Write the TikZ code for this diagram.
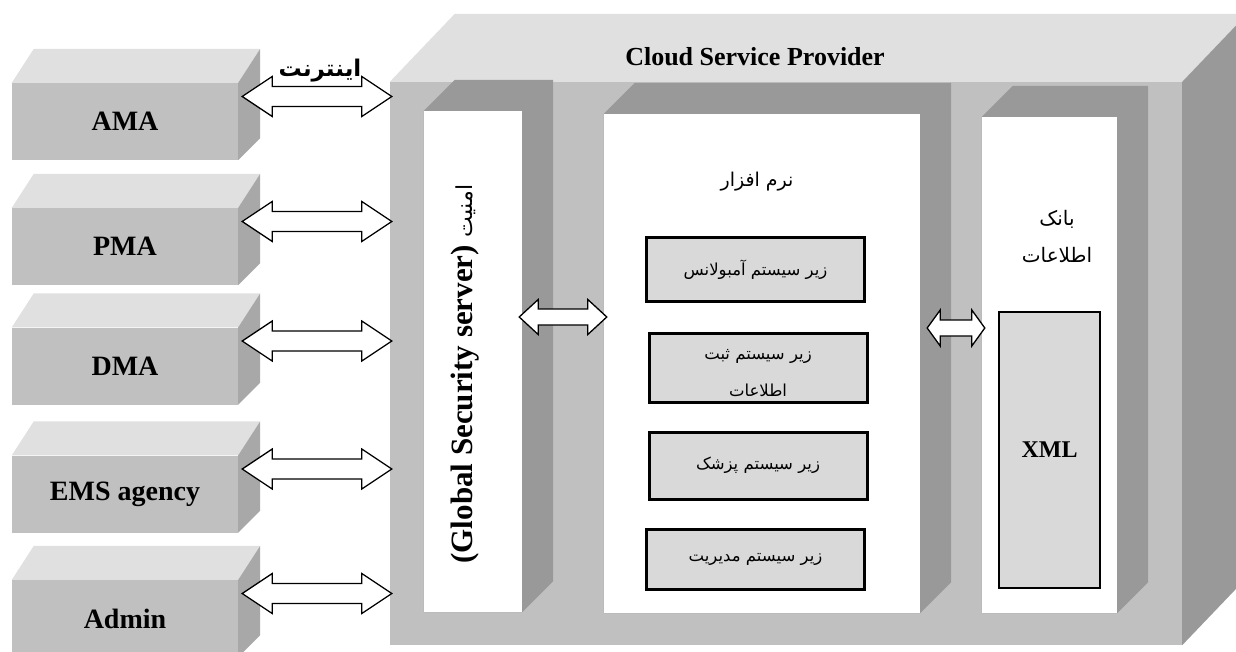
\documentclass[tikz,border=0pt]{standalone}
\usepackage{fontspec}
\setmainfont{Liberation Serif}
\newfontfamily\farsifont[Script=Arabic]{DejaVu Sans}
\TeXXeTstate=1
\usetikzlibrary{calc}
\newcommand{\fa}[1]{{\farsifont\beginR #1\endR}}
\definecolor{frontgray}{HTML}{C0C0C0}
\definecolor{topgray}{HTML}{E0E0E0}
\definecolor{sidegray}{HTML}{999999}
\definecolor{boxgray}{HTML}{D9D9D9}
\tikzset{
  client/.style={fill=frontgray, minimum width=226pt, minimum height=77pt, inner sep=0pt,
    font=\fontsize{28}{30}\selectfont\bfseries},
  panel/.style={inner sep=0pt},
  subsys/.style={fill=boxgray, draw=black, line width=3pt, minimum width=218pt, inner sep=0pt,
    align=center, font=\fontsize{16.5}{30}\selectfont},
  fatarrow/.style n args={3}{draw=black, fill=white, line width=1.3pt, line join=miter,
    to path={(\tikztostart) -- ++(#1,-#2) -- ++(0,#2-#3) -- ($(\tikztotarget)+(-#1,-#3)$)
      -- ++(0,-#2+#3) -- (\tikztotarget) -- ++(-#1,#2) -- ++(0,-#2+#3)
      -- ($(\tikztostart)+(#1,#3)$) -- ++(0,#2-#3) -- cycle}},
}
\begin{document}
\begin{tikzpicture}[x=1pt, y=-1pt]
    \clip (0,0) rectangle (1236,652);
    \node[fill=frontgray, minimum width=792pt, minimum height=563pt, inner sep=0pt] (cloud) at (786,363.5) {};
    \fill[topgray] (cloud.north west) -- ++(65,-68) -- ($(cloud.north east)+(65,-68)$) -- (cloud.north east) -- cycle;
    \fill[sidegray] (cloud.north east) -- ++(65,-68) -- ($(cloud.south east)+(65,-68)$) -- (cloud.south east) -- cycle;
    \node[font=\fontsize{26}{28}\selectfont\bfseries] (csp) at (755,57) {Cloud Service Provider};
    \foreach \name/\x/\y/\w/\h in {security/473/361.5/98/501, software/762/363.5/316/499, database/1049.5/365/135/496} {
      \node[panel, minimum width=\w pt, minimum height=\h pt] (\name) at (\x,\y) {};
      \fill[sidegray] (\name.north west) -- ++(31,-31) -- ($(\name.north east)+(31,-31)$)
        -- ($(\name.south east)+(31,-31)$) -- (\name.south east) -- (\name.south west) -- cycle;
      \fill[white] (\name.north west) rectangle (\name.south east);
    }
    \foreach \name/\lab/\y in {ama/AMA/121.5, pma/PMA/246.5, dma/DMA/366, ems/EMS agency/494, admin/Admin/618.5} {
      \node[client] (\name) at (125,\y) {\lab};
      \fill[topgray] (\name.north west) -- ++(22,-34) -- ($(\name.north east)+(22,-34)$) -- (\name.north east) -- cycle;
      \fill[sidegray!85!white] (\name.north east) -- ++(22,-34) -- ($(\name.south east)+(22,-22)$) -- (\name.south east) -- cycle;
      \coordinate (\name-out) at ($(\name.east)+(4,-25)$);
      \coordinate (\name-in) at ($(\name-out -| cloud.west)+(2,0)$);
      \draw[fatarrow={30}{20}{10}] (\name-out) to (\name-in);
    }
    \node[font=\fontsize{23}{25}\selectfont\bfseries] (internet) at (320,71) {\fa{اینترنت}};
    \node[rotate=90, font=\fontsize{31}{34}\selectfont\bfseries] (sectext) at (465,374)
      {(Global Security server) {\mdseries\fontsize{22}{24}\selectfont\fa{امنیت}}};
    \node[font=\fontsize{19}{22}\selectfont] (softtitle) at (757,182) {\fa{نرم افزار}};
    \node[subsys, minimum height=63pt] (ambulance) at (755.5,269.5) {\fa{زیر سیستم آمبولانس}};
    \node[subsys, minimum height=69pt] (records) at (758,367.5) {};
    \node[align=center, font=\fontsize{16.5}{37}\selectfont] (recordstext) at ($(records)+(0,6)$) {\fa{زیر سیستم ثبت}\\\fa{اطلاعات}};
    \node[subsys, minimum height=67pt] (doctor) at (758,465.5) {\fa{زیر سیستم پزشک}};
    \node[subsys, minimum height=60pt] (manage) at (755.5,559) {\fa{زیر سیستم مدیریت}};
    \node[align=center, font=\fontsize{20}{37}\selectfont] (dbtitle) at (1057,236) {\fa{بانک}\\\fa{اطلاعات}};
    \node[subsys, minimum width=101pt, minimum height=276pt, line width=2.2pt,
      font=\fontsize{24}{26}\selectfont\bfseries] (xml) at (1049.5,450) {XML};
    \coordinate (sec-r) at ($(security.east)+(-3,-44.5)$);
    \coordinate (soft-l) at ($(sec-r -| software.west)+(3,0)$);
    \coordinate (soft-r) at ($(software.east)+(7,-35.5)$);
    \coordinate (db-l) at ($(soft-r -| database.west)+(3,0)$);
    \draw[fatarrow={19}{17.5}{8}] (sec-r) to (soft-l);
    \draw[fatarrow={13}{18}{8}] (soft-r) to (db-l);
\end{tikzpicture}
\end{document}
